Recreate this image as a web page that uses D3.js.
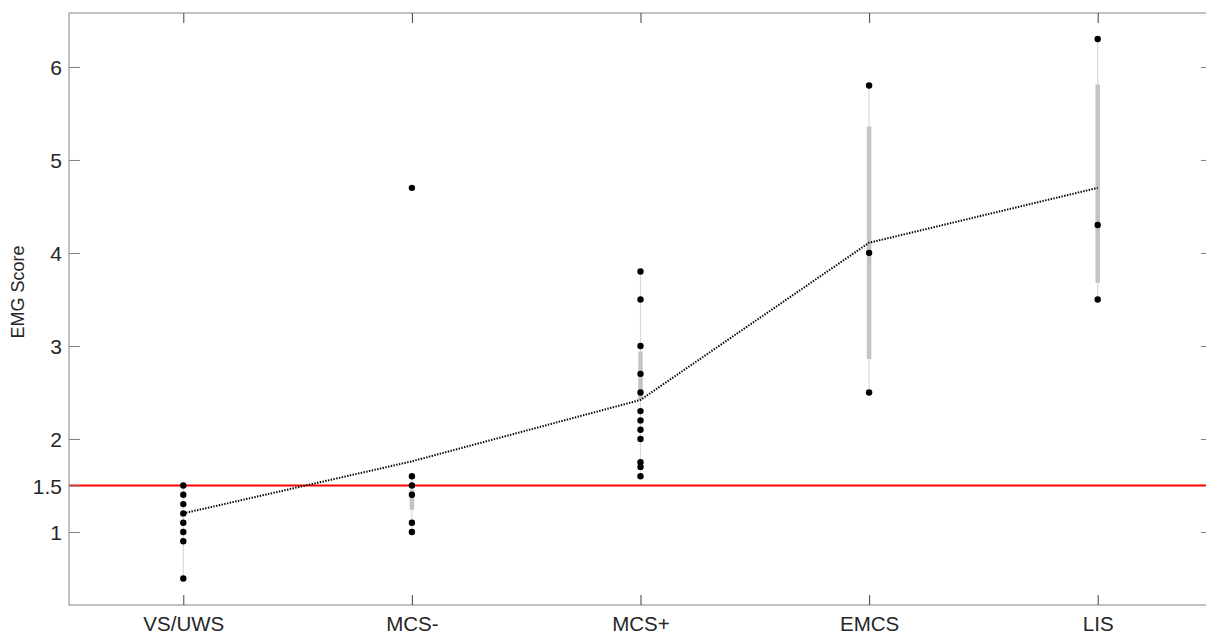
<!DOCTYPE html>
<html>
<head>
<meta charset="utf-8">
<script src="https://cdn.jsdelivr.net/npm/d3@7"></script>
<style>
  html, body { margin: 0; padding: 0; background: #fff; }
  svg { display: block; }
  text { font-family: "Liberation Sans", Arial, sans-serif; fill: #262626; }
</style>
</head>
<body>
<svg id="chart" width="1206" height="635"></svg>
<script>
// Groups and their EMG scores
const categories = ["VS/UWS", "MCS-", "MCS+", "EMCS", "LIS"];
const scoresVS = [1.5, 1.4, 1.3, 1.2, 1.1, 1.0, 0.9, 0.5];
const scoresMCSminus = [4.7, 1.6, 1.5, 1.4, 1.1, 1.0];
const scoresMCSplus = [3.8, 3.5, 3.0, 2.7, 2.5, 2.3, 2.2, 2.1, 2.0, 1.75, 1.7, 1.6];
const scoresEMCS = [5.8, 4.0, 2.5];
const scoresLIS = [6.3, 4.3, 3.5];
// Group summary: central value, box (q1..q3) and whiskers
const centre = [1.2, 1.76, 2.42, 4.11, 4.7];
const boxLow = [1.2, 1.24, 2.42, 2.86, 3.68];
const boxHigh = [1.2, 1.45, 2.94, 5.36, 5.81];
const whiskerLow = [0.5, 1.0, 1.6, 2.5, 3.5];
const whiskerHigh = [1.5, 1.6, 3.8, 5.8, 6.3];
const yTicks = [1, 1.5, 2, 3, 4, 5, 6];
const threshold = 1.5;

const allScores = [scoresVS, scoresMCSminus, scoresMCSplus, scoresEMCS, scoresLIS];

const svg = d3.select("#chart");
const plotLeft = 69, plotRight = 1212, plotTop = 13, plotBottom = 605;

const x = d3.scalePoint().domain(categories).range([plotLeft, plotRight]).padding(0.5);
const y = d3.scaleLinear().domain([0.215, 6.58]).range([plotBottom, plotTop]);

// whiskers (thin grey)
svg.append("g").selectAll("line").data(categories).join("line")
  .attr("x1", d => x(d)).attr("x2", d => x(d))
  .attr("y1", (d, i) => y(whiskerLow[i])).attr("y2", (d, i) => y(whiskerHigh[i]))
  .attr("stroke", "#d9d9d9").attr("stroke-width", 1.2);

// boxes (thick grey)
svg.append("g").selectAll("line").data(categories).join("line")
  .attr("x1", d => x(d)).attr("x2", d => x(d))
  .attr("y1", (d, i) => y(boxLow[i])).attr("y2", (d, i) => y(boxHigh[i]))
  .attr("stroke", "#c4c4c4").attr("stroke-width", 4.5);

// threshold line
svg.append("line")
  .attr("x1", plotLeft).attr("x2", plotRight)
  .attr("y1", y(threshold)).attr("y2", y(threshold))
  .attr("stroke", "#ff0000").attr("stroke-width", 2);

// dotted line through the group centres
svg.append("path")
  .datum(centre)
  .attr("d", d3.line().x((d, i) => x(categories[i])).y(d => y(d)))
  .attr("fill", "none").attr("stroke", "#000").attr("stroke-width", 2)
  .attr("stroke-dasharray", "1.4,1.4");

// individual points
const pts = [];
allScores.forEach((arr, i) => arr.forEach(v => pts.push({ c: categories[i], v })));
svg.append("g").selectAll("circle").data(pts).join("circle")
  .attr("cx", d => x(d.c)).attr("cy", d => y(d.v)).attr("r", 3.2)
  .attr("fill", "#000");

// frame
svg.append("rect")
  .attr("x", plotLeft).attr("y", plotTop)
  .attr("width", plotRight - plotLeft).attr("height", plotBottom - plotTop)
  .attr("fill", "none").attr("stroke", "#a0a0a0").attr("stroke-width", 1.3);

// y axes (left labelled, right ticks only)
const yAxisL = svg.append("g").attr("transform", `translate(${plotLeft},0)`)
  .call(d3.axisRight(y).tickValues(yTicks).tickSize(11).tickFormat(""));
yAxisL.select(".domain").remove();
yAxisL.selectAll(".tick line").attr("stroke", "#808080");
yAxisL.selectAll(".tick").append("text")
  .attr("x", -7).attr("dy", "0.36em").attr("text-anchor", "end")
  .style("font-size", "21px").text(d => d3.format("~g")(d));

const yAxisR = svg.append("g").attr("transform", `translate(${plotRight},0)`)
  .call(d3.axisLeft(y).tickValues(yTicks.filter(t => t !== threshold)).tickSize(11).tickFormat(""));
yAxisR.select(".domain").remove();
yAxisR.selectAll(".tick line").attr("stroke", "#808080");

// x axes (bottom labelled, top ticks only)
const xAxisB = svg.append("g").attr("transform", `translate(0,${plotBottom})`)
  .call(d3.axisTop(x).tickSize(10).tickFormat(""));
xAxisB.select(".domain").remove();
xAxisB.selectAll(".tick line").attr("stroke", "#404040");
xAxisB.selectAll(".tick").append("text")
  .attr("y", 25.5).attr("text-anchor", "middle").style("font-size", "20.5px").text(d => d);

const xAxisT = svg.append("g").attr("transform", `translate(0,${plotTop})`)
  .call(d3.axisBottom(x).tickSize(10).tickFormat(""));
xAxisT.select(".domain").remove();
xAxisT.selectAll(".tick line").attr("stroke", "#404040");

// y axis title
svg.append("text")
  .attr("transform", `translate(24,${(plotTop + plotBottom) / 2 - 17}) rotate(-90)`)
  .attr("text-anchor", "middle").style("font-size", "18px").text("EMG Score");
</script>
</body>
</html>
